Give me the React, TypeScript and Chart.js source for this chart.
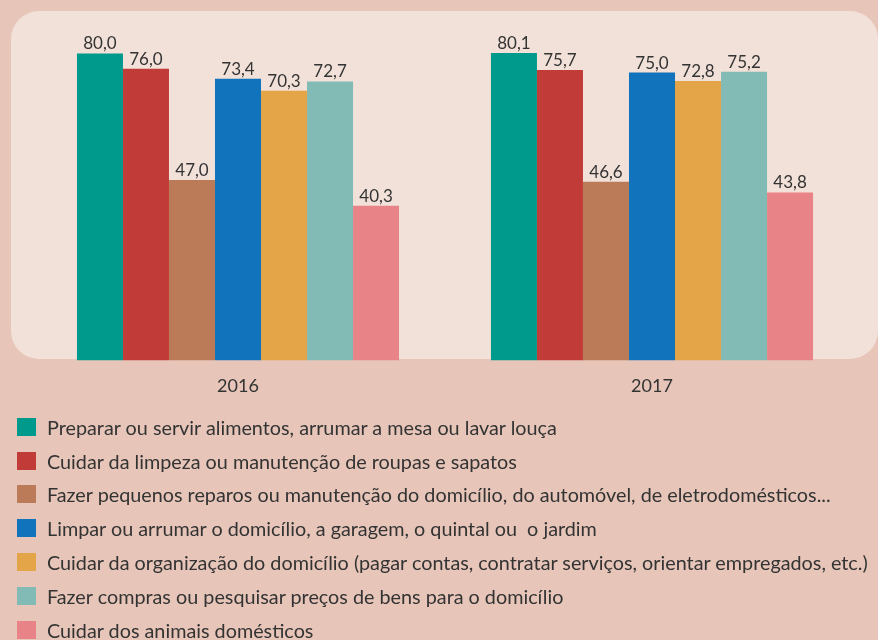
import React, { useEffect, useRef } from 'react';
import { Chart, registerables } from 'chart.js';

Chart.register(...registerables);

const categories = ['2016', '2017'];
const seriesNames = [
  'Preparar ou servir alimentos, arrumar a mesa ou lavar louça',
  'Cuidar da limpeza ou manutenção de roupas e sapatos',
  'Fazer pequenos reparos ou manutenção do domicílio, do automóvel, de eletrodomésticos...',
  'Limpar ou arrumar o domicílio, a garagem, o quintal ou  o jardim',
  'Cuidar da organização do domicílio (pagar contas, contratar serviços, orientar empregados, etc.)',
  'Fazer compras ou pesquisar preços de bens para o domicílio',
  'Cuidar dos animais domésticos',
];
const seriesColors = ['#009a8c', '#c13c38', '#bb7b58', '#1073bb', '#e4a548', '#82bab5', '#e88488'];
const values2016 = [80.0, 76.0, 47.0, 73.4, 70.3, 72.7, 40.3];
const values2017 = [80.1, 75.7, 46.6, 75.0, 72.8, 75.2, 43.8];

const FONT = 'Lato, "Noto Sans", sans-serif';
const TEXT = '#333333';

const valueLabels = {
  id: 'valueLabels',
  afterDatasetsDraw(chart: any) {
    const ctx = chart.ctx;
    ctx.save();
    ctx.font = `17px ${FONT}`;
    ctx.fillStyle = TEXT;
    ctx.textAlign = 'center';
    ctx.textBaseline = 'alphabetic';
    chart.data.datasets.forEach((ds: any, i: number) => {
      const meta = chart.getDatasetMeta(i);
      meta.data.forEach((bar: any, j: number) => {
        const v = ds.data[j] as number;
        ctx.fillText(v.toFixed(1).replace('.', ','), bar.x, bar.y - 4);
      });
    });
    ctx.restore();
  },
};

export default function App() {
  const ref = useRef<HTMLCanvasElement>(null);
  useEffect(() => {
    if (!ref.current) return;
    const chart = new Chart(ref.current, {
      type: 'bar',
      data: {
        labels: categories,
        datasets: seriesNames.map((name, i) => ({
          label: name,
          data: [values2016[i], values2017[i]],
          backgroundColor: seriesColors[i],
          borderWidth: 0,
          categoryPercentage: 0.778,
          barPercentage: 1,
        })),
      },
      options: {
        responsive: false,
        animation: false,
        layout: { padding: { left: 31, right: 19, top: 15, bottom: 5.8 } },
        plugins: { legend: { display: false }, tooltip: { enabled: false } },
        scales: {
          x: {
            grid: { display: false, drawTicks: false },
            border: { display: false },
            ticks: { color: TEXT, font: { family: FONT, size: 18 }, padding: 15 },
          },
          y: { display: false, min: 0, max: 90 },
        },
      },
      plugins: [valueLabels],
    });
    return () => chart.destroy();
  }, []);

  return (
    <div style={{ position: 'fixed', left: 0, top: 0, width: 878, height: 640, overflow: 'hidden', background: '#e7c6b9' }}>
      <div style={{ position: 'absolute', left: 11, top: 11, width: 867, height: 348, borderRadius: 28, background: '#f2e1d9' }} />
      <canvas ref={ref} width={878} height={418} style={{ position: 'absolute', left: 0, top: 0, width: 878, height: 418 }} />
      <div style={{ position: 'absolute', left: 17, top: 410, fontFamily: FONT, fontSize: 19.8, color: TEXT }}>
        {seriesNames.map((name, i) => (
          <div key={i} style={{ height: 33.8, display: 'flex', alignItems: 'center', whiteSpace: 'pre' }}>
            <span style={{ display: 'inline-block', width: 19, height: 18, background: seriesColors[i], marginRight: 11, flex: 'none' }} />
            <span>{name}</span>
          </div>
        ))}
      </div>
    </div>
  );
}
